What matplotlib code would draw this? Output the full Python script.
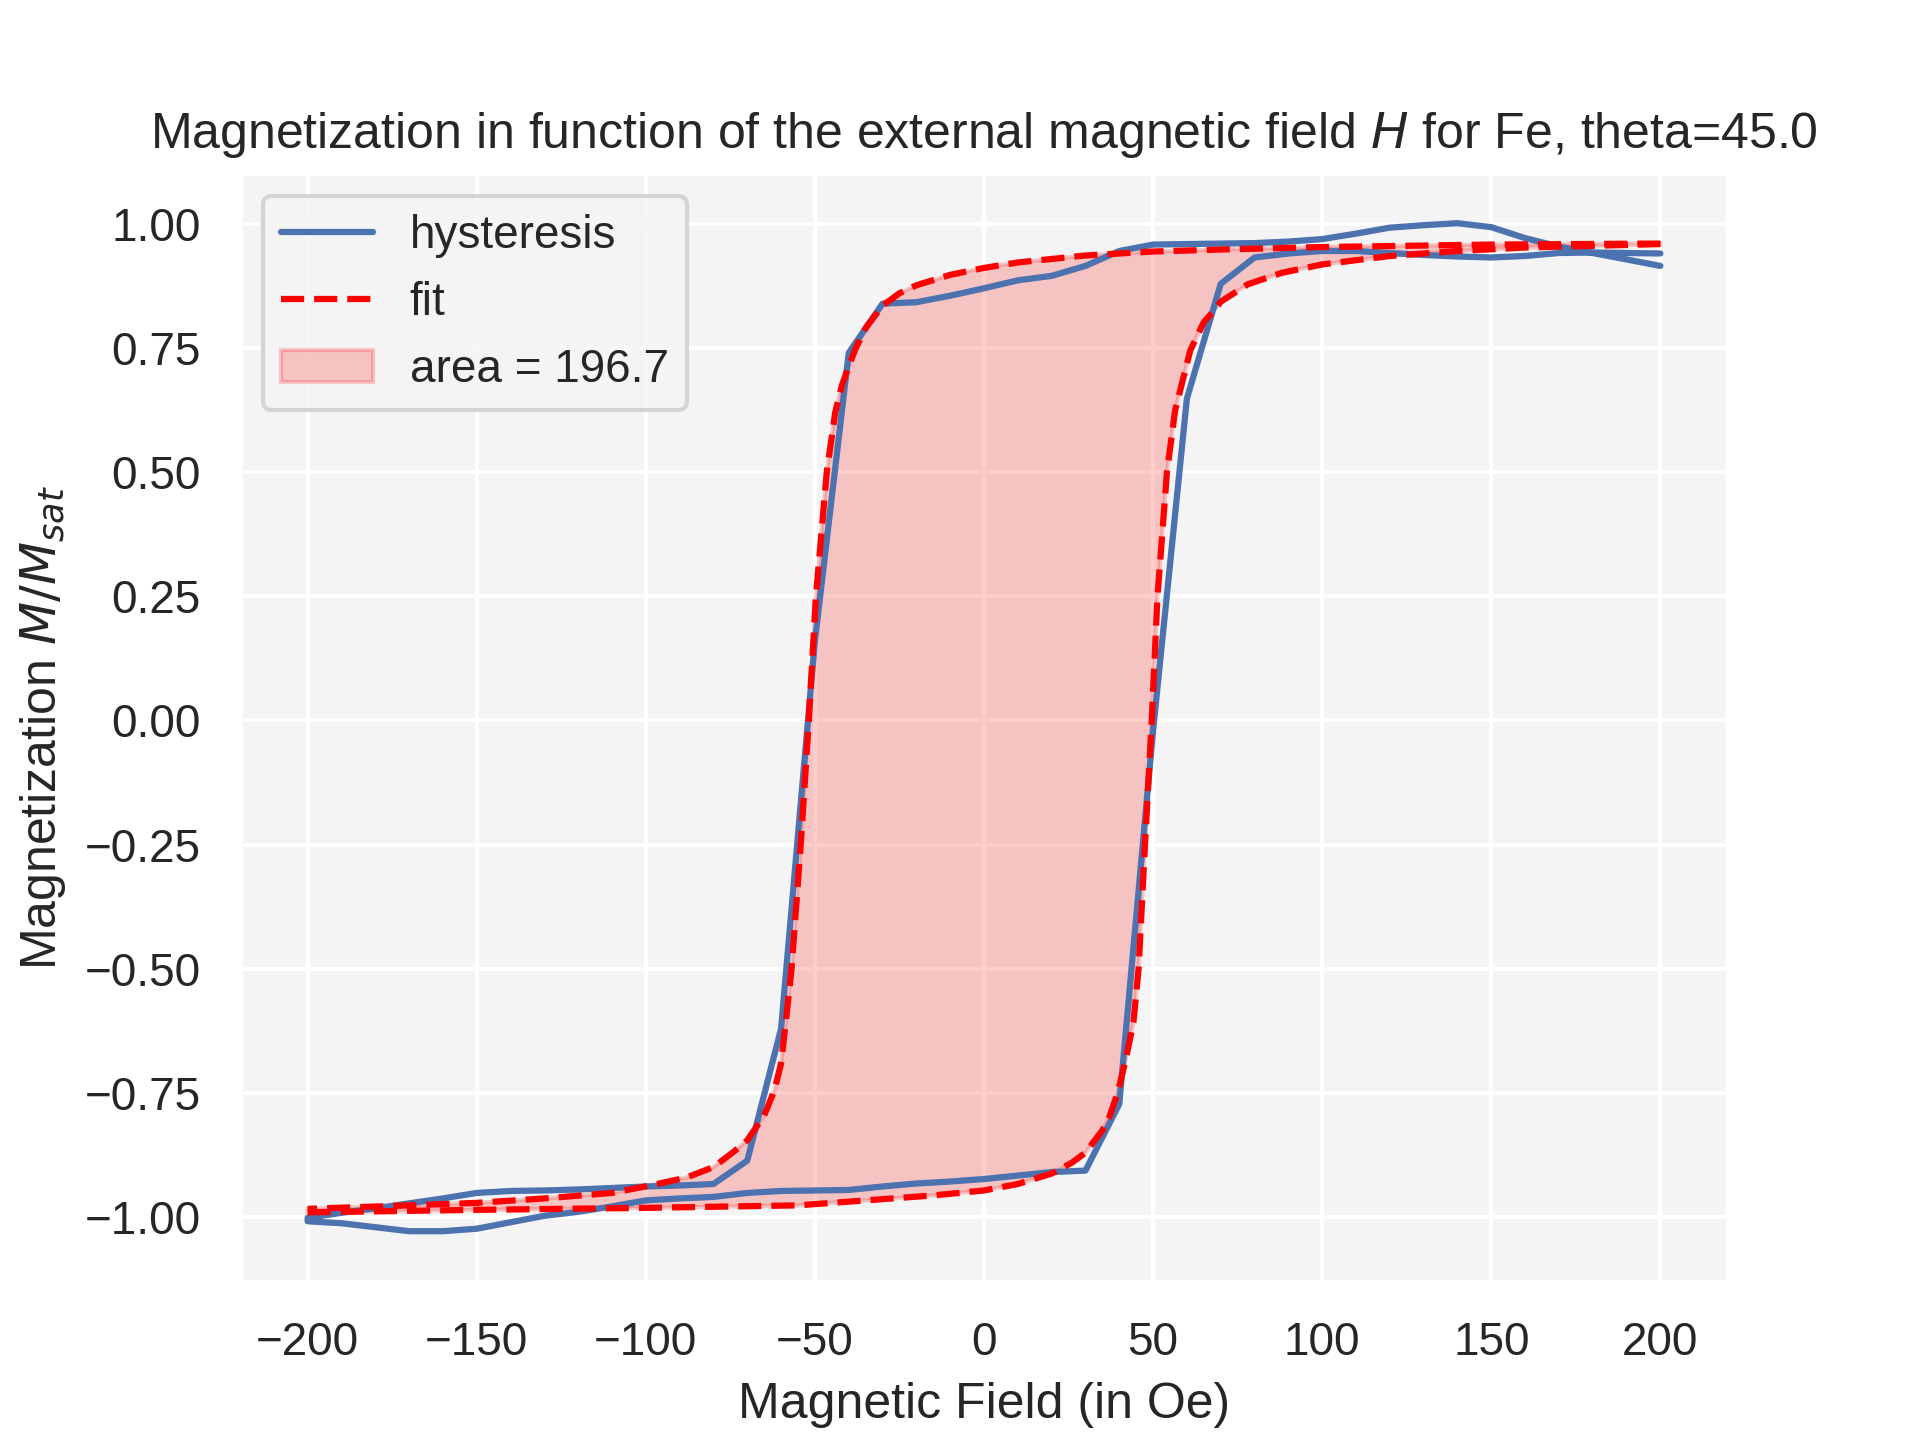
import numpy as np
import matplotlib
matplotlib.use("Agg")
import matplotlib.pyplot as plt
import seaborn as sns

# ---- data: measured hysteresis loop ----
H_down = [200, 190, 180, 170, 160, 150, 140, 130, 120, 110, 100, 90, 80, 70, 60, 50, 40, 30, 20, 10,
          0, -10, -20, -30, -40, -50, -60, -70, -80, -90, -100, -110, -120, -130, -140, -150,
          -160, -170, -180, -190, -200]
M_down = [0.915, 0.928, 0.941, 0.954, 0.971, 0.993, 1.001, 0.997, 0.992, 0.980, 0.969, 0.964,
          0.961, 0.960, 0.959, 0.958, 0.945, 0.915, 0.895, 0.886, 0.870, 0.855, 0.842, 0.839,
          0.740, 0.160, -0.620, -0.886, -0.933, -0.936, -0.938, -0.941, -0.944, -0.946, -0.947,
          -0.951, -0.962, -0.972, -0.982, -0.991, -1.001]
H_up = [-200, -190, -180, -170, -160, -150, -140, -130, -120, -110, -100, -90, -80, -70, -60, -50,
        -40, -30, -20, -10, 0, 10, 20, 30, 40, 50, 60, 70, 80, 90, 100, 110, 120, 130, 140, 150,
        160, 170, 180, 190, 200]
M_up = [-1.008, -1.012, -1.020, -1.028, -1.028, -1.023, -1.010, -0.997, -0.989, -0.978, -0.966,
        -0.962, -0.959, -0.951, -0.947, -0.946, -0.945, -0.938, -0.932, -0.928, -0.923, -0.916,
        -0.909, -0.906, -0.772, -0.020, 0.648, 0.879, 0.932, 0.940, 0.945, 0.945, 0.941, 0.937,
        0.934, 0.932, 0.935, 0.941, 0.942, 0.941, 0.940]

# ---- data: fitted branches ----
H_fit_down = [200, 150, 100, 70, 50, 30, 10, 0, -10, -20, -25, -30, -35, -38, -40, -42, -44,
              -46.5, -49.7, -51.8, -54.2, -56.9, -58.5, -60, -62, -65, -70, -74, -80, -88, -98,
              -110, -130, -150, -170, -200]
M_fit_down = [0.960, 0.958, 0.953, 0.948, 0.944, 0.936, 0.922, 0.911, 0.897, 0.876, 0.860, 0.835,
              0.790, 0.748, 0.713, 0.675, 0.620, 0.500, 0.250, 0.000, -0.250, -0.500, -0.600,
              -0.690, -0.745, -0.795, -0.845, -0.868, -0.899, -0.920, -0.935, -0.951, -0.962,
              -0.971, -0.976, -0.983]
H_fit_up = [-200, -150, -100, -55, -35, -15, 0, 10, 20, 26, 30, 32, 35, 37, 39.5, 42, 44.2, 45.7,
            47.6, 49.6, 51.3, 54.1, 56.5, 61, 65, 68, 70, 78, 88, 100, 120, 140, 160, 200]
M_fit_up = [-0.990, -0.985, -0.981, -0.976, -0.966, -0.956, -0.946, -0.933, -0.912, -0.890,
            -0.870, -0.852, -0.825, -0.799, -0.750, -0.680, -0.607, -0.500, -0.250, 0.000, 0.250,
            0.500, 0.624, 0.745, 0.802, 0.825, 0.843, 0.878, 0.901, 0.918, 0.935, 0.945, 0.952,
            0.959]

area_value = 196.7

sns.set_theme(style="darkgrid", context="notebook",
              rc={"axes.facecolor": "#f4f4f4", "grid.color": "white"})
plt.rcParams["font.family"] = ["Liberation Sans", "DejaVu Sans"]

fig, ax = plt.subplots(figsize=(6.4, 4.8), dpi=300)

H_loop = H_down + H_up
M_loop = M_down + M_up
ax.plot(H_loop, M_loop, color="#4c72b0", lw=1.5, label="hysteresis")
ax.plot(H_fit_down, M_fit_down, color="red", ls="--", lw=1.5, label="fit")
ax.plot(H_fit_up, M_fit_up, color="red", ls="--", lw=1.5)
ax.fill(H_fit_down + H_fit_up, M_fit_down + M_fit_up, color="red", alpha=0.2,
        label=f"area = {area_value}")

ax.set_xticks([-200, -150, -100, -50, 0, 50, 100, 150, 200])
ax.set_yticks([-1.0, -0.75, -0.5, -0.25, 0.0, 0.25, 0.5, 0.75, 1.0])
ax.set_xlabel("Magnetic Field (in Oe)")
ax.set_ylabel("Magnetization $M/M_{sat}$")
ax.set_title("Magnetization in function of the external magnetic field $H$ for Fe, theta=45.0")
ax.legend(loc="upper left")

fig.savefig("out.png", dpi=300)
